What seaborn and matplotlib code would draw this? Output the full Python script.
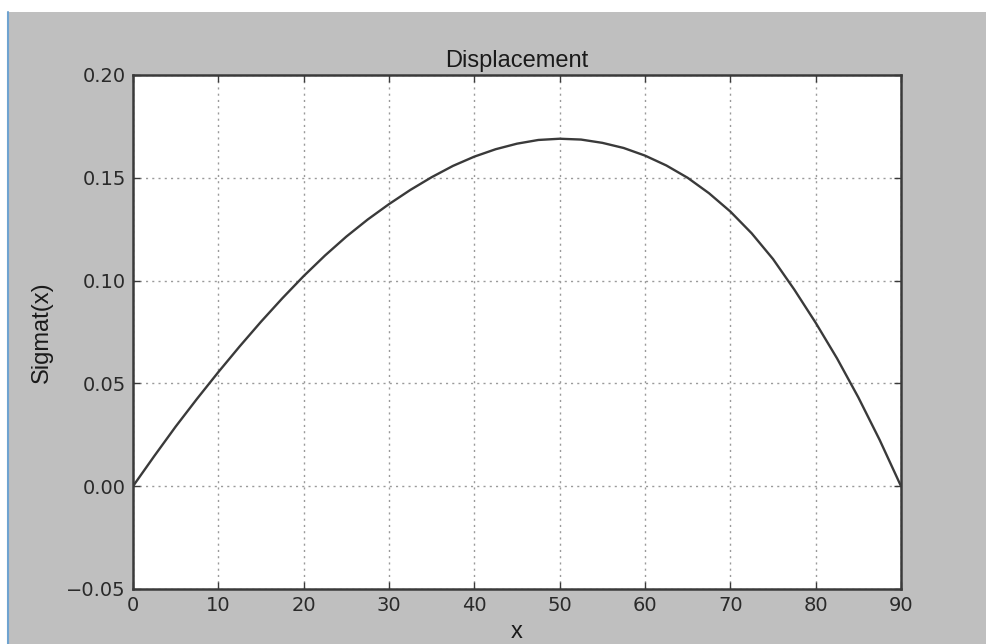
import matplotlib
matplotlib.use("Agg")
import matplotlib.pyplot as plt
import seaborn as sns
import pandas as pd
from matplotlib.patches import Rectangle
from matplotlib.lines import Line2D

# Data
x_values = [0, 2.5, 5, 7.5, 10, 12.5, 15, 17.5, 20, 22.5, 25, 27.5, 30, 32.5, 35,
            37.5, 40, 42.5, 45, 47.5, 50, 52.5, 55, 57.5, 60, 62.5, 65, 67.5, 70,
            72.5, 75, 77.5, 80, 82.5, 85, 87.5, 90]
sigmat_values = [0.0, 0.0147, 0.0290, 0.0425, 0.0555, 0.0680, 0.0800, 0.0914, 0.1022,
                 0.1122, 0.1214, 0.1297, 0.1372, 0.1441, 0.1503, 0.1558, 0.1603,
                 0.1639, 0.1666, 0.1684, 0.1690, 0.1686, 0.1670, 0.1645, 0.1608,
                 0.1560, 0.1500, 0.1425, 0.1336, 0.1230, 0.1105, 0.0956, 0.0795,
                 0.0622, 0.0432, 0.0225, 0.0]
x_ticks = [0, 10, 20, 30, 40, 50, 60, 70, 80, 90]
y_ticks = [-0.05, 0.00, 0.05, 0.10, 0.15, 0.20]
title = "Displacement"
x_label = "x"
y_label = "Sigmat(x)"

sns.set_theme(style="white")
plt.rcParams['font.family'] = ['DejaVu Sans']

df = pd.DataFrame({"x": x_values, "sigmat": sigmat_values})

W, H = 986, 644
fig = plt.figure(figsize=(W / 100, H / 100), dpi=100)
fig.patch.set_facecolor("white")
# gray window background with a white strip at top and left, thin blue edge line
fig.patches.append(Rectangle((8 / W, 0), 1 - 8 / W, 1 - 12 / H, transform=fig.transFigure,
                             facecolor="#bfbfbf", edgecolor="none", zorder=-10))
fig.lines.append(Line2D([7.5 / W, 7.5 / W], [0, 1 - 12 / H], transform=fig.transFigure,
                        color="#6fa3d0", linewidth=1.5, zorder=-5))

ax = fig.add_axes([133 / W, (H - 589) / H, (901 - 133) / W, (589 - 75) / H])
ax.set_facecolor("white")

sns.lineplot(data=df, x="x", y="sigmat", ax=ax, color="#3a3a3a", linewidth=1.7,
             estimator=None, sort=False)

ax.set_xlim(0, 90)
ax.set_ylim(-0.05, 0.20)
ax.set_xticks(x_ticks)
ax.set_xticklabels([str(t) for t in x_ticks])
ax.set_yticks(y_ticks)
ax.set_yticklabels([f"{t:.2f}".replace("-", "\u2212") for t in y_ticks])

ax.grid(True, linestyle=(0, (1.5, 3)), color="#9a9a9a", linewidth=1.0)
for s in ax.spines.values():
    s.set_visible(True)
    s.set_color("#3a3a3a")
    s.set_linewidth(1.8)

ax.tick_params(axis="both", which="major", direction="in", length=5, width=1,
               color="#3a3a3a", top=True, right=True, bottom=True, left=True,
               labelsize=14, labelcolor="#2a2a2a", pad=5)

ax.set_title(title, fontsize=17, family=["Liberation Sans", "DejaVu Sans"],
             color="#1a1a1a", pad=6)
ax.set_xlabel(x_label, fontsize=17, family=["Liberation Sans", "DejaVu Sans"],
              color="#1a1a1a", labelpad=4)
ax.set_ylabel(y_label, fontsize=17, family=["Liberation Sans", "DejaVu Sans"],
              color="#1a1a1a", labelpad=10)

fig.savefig("out.png", dpi=100, facecolor=fig.get_facecolor())
